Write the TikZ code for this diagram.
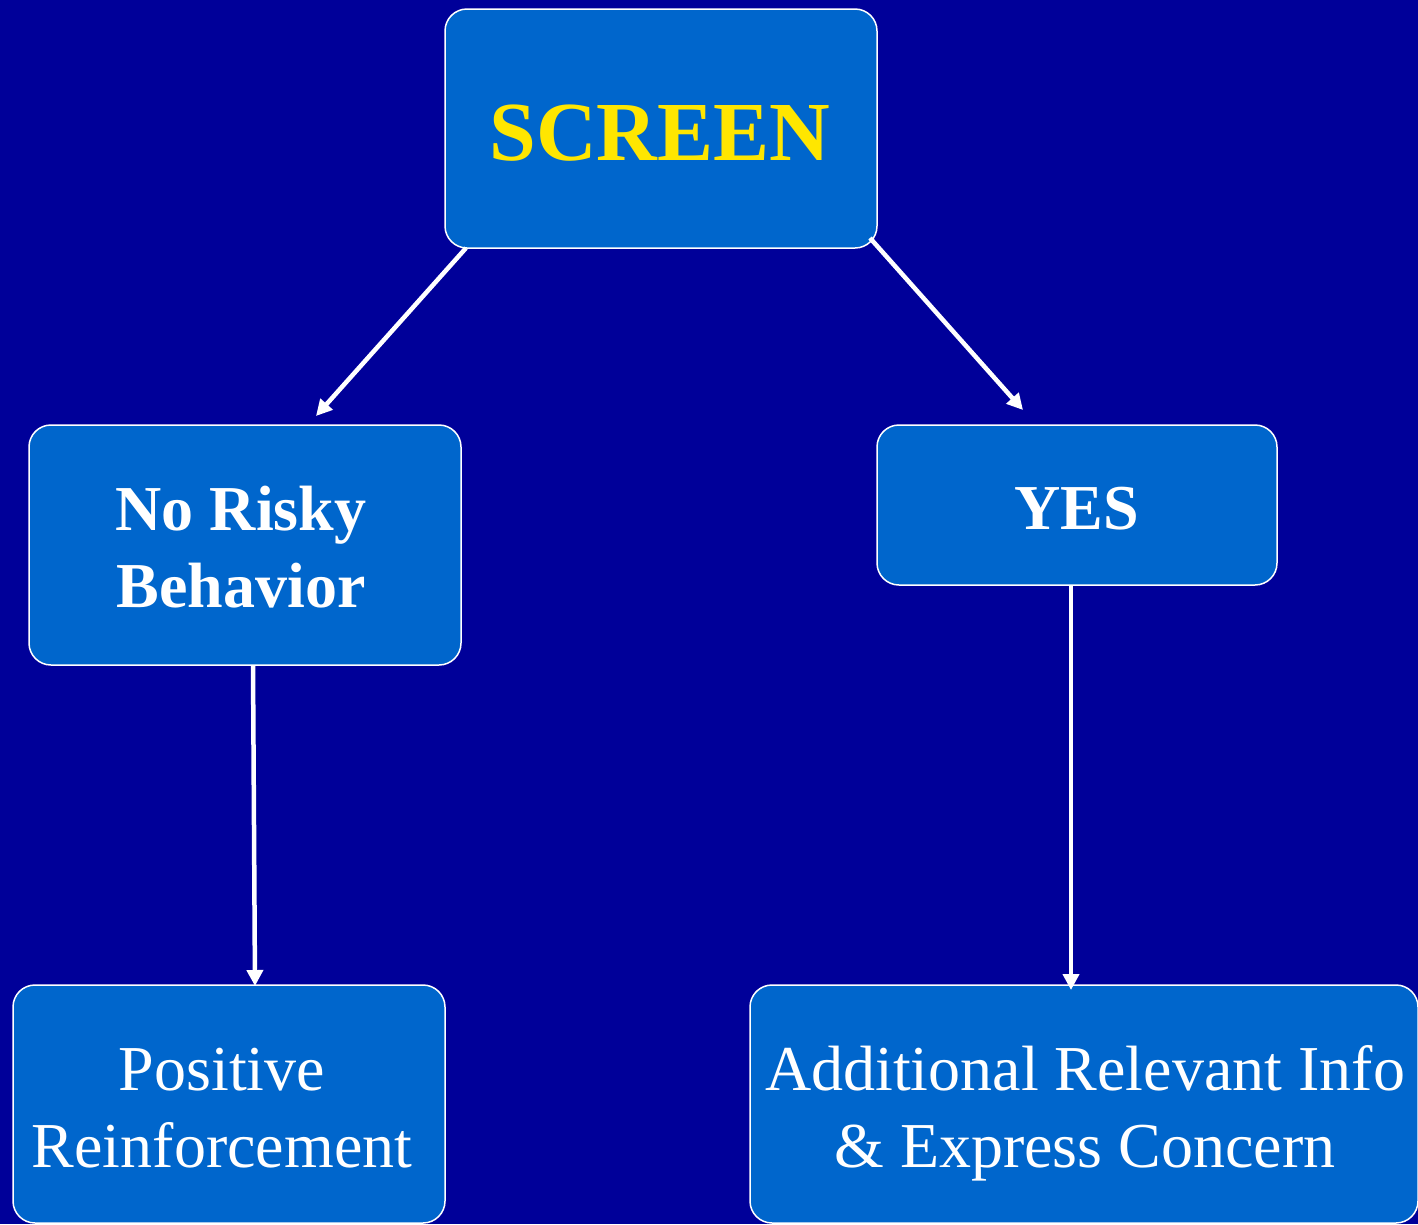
\documentclass[tikz,border=0pt]{standalone}
\usepackage{fontspec}
\setmainfont{Liberation Serif}
\usetikzlibrary{arrows.meta}
\definecolor{bgblue}{RGB}{0,0,153}
\definecolor{boxblue}{RGB}{0,102,204}
\definecolor{titleyellow}{RGB}{255,230,0}
\begin{document}
\begin{tikzpicture}[x=1pt,y=-1pt,
  box/.style={draw=white, line width=1.5pt, fill=boxblue, rounded corners=22pt,
    inner sep=0pt},
  lbl/.style={inner sep=0pt, align=center, text=white, anchor=base},
  arr/.style={draw=white, line width=4.5pt, -{Triangle[length=16pt,width=16pt]}},
  bodyfont/.style={font=\fontsize{64}{77}\selectfont},
  boldfont/.style={font=\fontsize{64}{77}\selectfont\bfseries}
]
\fill[bgblue] (0,0) rectangle (1418,1224);
\useasboundingbox (0,0) rectangle (1418,1224);

\node[box, minimum width=432pt, minimum height=239pt] (screen) at (661,128.5) {};
\node[box, minimum width=432pt, minimum height=240pt] (norisk) at (245,545) {};
\node[box, minimum width=400pt, minimum height=160pt] (yes) at (1077,505) {};
\node[box, minimum width=432pt, minimum height=238pt] (pos) at (229,1104) {};
\node[box, minimum width=668pt, minimum height=238pt] (add) at (1084,1104) {};

\node[lbl, text=titleyellow, font=\fontsize{84}{90}\selectfont\bfseries] (screenT) at (660,160) {SCREEN};
\node[lbl, boldfont] (noriskT) at (241,607) {No Risky\\Behavior};
\node[lbl, boldfont] (yesT) at (1077,529) {YES};
\node[lbl, bodyfont] (posT) at (222,1167) {Positive\\Reinforcement};
\node[lbl, bodyfont] (addT) at (1085,1167) {Additional Relevant Info\\\&{} Express Concern};

\coordinate (s1) at (466,248);
\coordinate (e1) at (316,416);
\coordinate (s2) at (870,238);
\coordinate (e2) at (1023,410);
\coordinate (s3) at (253,665);
\coordinate (e3) at (255,986);
\coordinate (s4) at (1071,585);
\coordinate (e4) at (1071,990);

\draw[arr] (s1) -- (e1);
\draw[arr] (s2) -- (e2);
\draw[arr] (s3) -- (e3);
\draw[arr] (s4) -- (e4);
\end{tikzpicture}
\end{document}
